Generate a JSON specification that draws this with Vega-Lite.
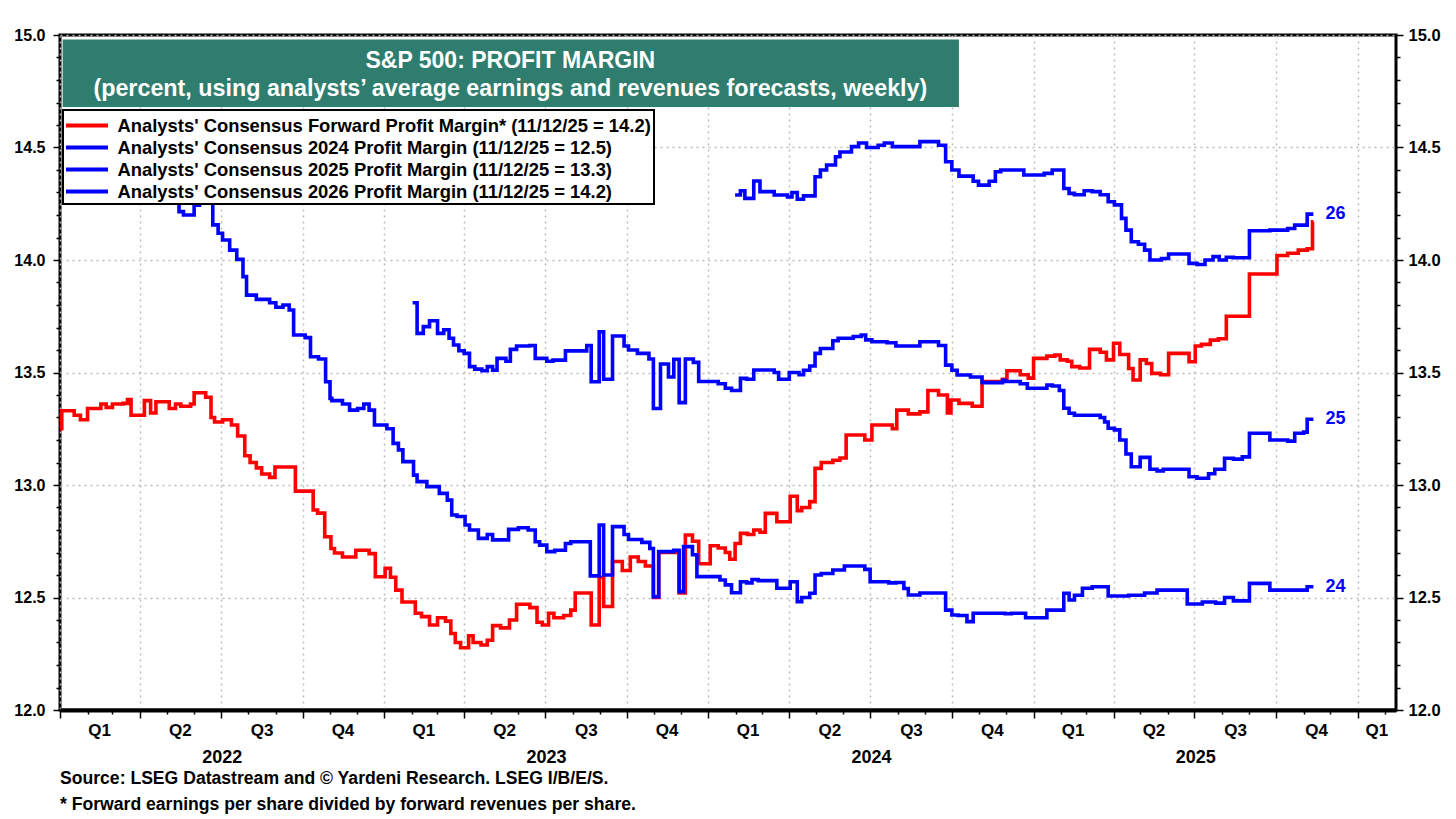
{
  "$schema": "https://vega.github.io/schema/vega-lite/v6.json",
  "width": 1336,
  "height": 675,
  "autosize": {"type": "none"},
  "padding": {"left": 60, "top": 35, "right": 60, "bottom": 109},
  "background": "white",
  "config": {
    "font": "Liberation Sans",
    "view": {"stroke": "black", "strokeWidth": 3},
    "legend": {"strokeWidth": 2},
    "axis": {"labelFont": "Liberation Sans", "labelFontWeight": "bold", "labelColor": "black", "tickColor": "black", "domainColor": "black", "title": null}
  },
  "title": {
    "text": ["Source: LSEG Datastream and © Yardeni Research. LSEG I/B/E/S.", "* Forward earnings per share divided by forward revenues per share."],
    "orient": "bottom", "anchor": "start", "frame": "group", "offset": 4,
    "font": "Liberation Sans", "fontSize": 17.6, "fontWeight": "bold", "color": "black", "lineHeight": 26
  },
  "datasets": {
    "m": [
      {"s":"F","t":"2022-01-01","v":13.25},{"s":"F","t":"2022-01-03","v":13.33},{"s":"F","t":"2022-01-17","v":13.31},{"s":"F","t":"2022-01-24","v":13.29},{"s":"F","t":"2022-02-01","v":13.34},{"s":"F","t":"2022-02-16","v":13.36},{"s":"F","t":"2022-02-22","v":13.345},{"s":"F","t":"2022-03-01","v":13.36},{"s":"F","t":"2022-03-13","v":13.363},{"s":"F","t":"2022-03-18","v":13.38},{"s":"F","t":"2022-03-22","v":13.31},{"s":"F","t":"2022-04-06","v":13.375},{"s":"F","t":"2022-04-13","v":13.32},{"s":"F","t":"2022-04-19","v":13.37},{"s":"F","t":"2022-05-04","v":13.34},{"s":"F","t":"2022-05-11","v":13.36},{"s":"F","t":"2022-05-17","v":13.35},{"s":"F","t":"2022-05-28","v":13.36},{"s":"F","t":"2022-06-01","v":13.41},{"s":"F","t":"2022-06-14","v":13.39},{"s":"F","t":"2022-06-20","v":13.30},{"s":"F","t":"2022-06-24","v":13.28},{"s":"F","t":"2022-07-03","v":13.29},{"s":"F","t":"2022-07-13","v":13.267},{"s":"F","t":"2022-07-20","v":13.218},{"s":"F","t":"2022-07-28","v":13.13},{"s":"F","t":"2022-08-03","v":13.10},{"s":"F","t":"2022-08-10","v":13.076},{"s":"F","t":"2022-08-16","v":13.049},{"s":"F","t":"2022-08-25","v":13.034},{"s":"F","t":"2022-08-31","v":13.08},{"s":"F","t":"2022-09-23","v":12.973},{"s":"F","t":"2022-10-13","v":12.889},{"s":"F","t":"2022-10-18","v":12.875},{"s":"F","t":"2022-10-26","v":12.77},{"s":"F","t":"2022-11-02","v":12.718},{"s":"F","t":"2022-11-06","v":12.698},{"s":"F","t":"2022-11-15","v":12.68},{"s":"F","t":"2022-11-30","v":12.71},{"s":"F","t":"2022-12-15","v":12.695},{"s":"F","t":"2022-12-22","v":12.592},{"s":"F","t":"2023-01-02","v":12.63},{"s":"F","t":"2023-01-08","v":12.59},{"s":"F","t":"2023-01-14","v":12.533},{"s":"F","t":"2023-01-21","v":12.48},{"s":"F","t":"2023-02-05","v":12.43},{"s":"F","t":"2023-02-12","v":12.415},{"s":"F","t":"2023-02-21","v":12.378},{"s":"F","t":"2023-03-02","v":12.41},{"s":"F","t":"2023-03-11","v":12.395},{"s":"F","t":"2023-03-17","v":12.34},{"s":"F","t":"2023-03-22","v":12.30},{"s":"F","t":"2023-03-28","v":12.277},{"s":"F","t":"2023-04-06","v":12.33},{"s":"F","t":"2023-04-11","v":12.30},{"s":"F","t":"2023-04-20","v":12.289},{"s":"F","t":"2023-04-27","v":12.31},{"s":"F","t":"2023-05-03","v":12.375},{"s":"F","t":"2023-05-12","v":12.365},{"s":"F","t":"2023-05-22","v":12.40},{"s":"F","t":"2023-05-30","v":12.47},{"s":"F","t":"2023-06-14","v":12.455},{"s":"F","t":"2023-06-22","v":12.39},{"s":"F","t":"2023-06-28","v":12.378},{"s":"F","t":"2023-07-05","v":12.43},{"s":"F","t":"2023-07-11","v":12.41},{"s":"F","t":"2023-07-22","v":12.42},{"s":"F","t":"2023-07-30","v":12.444},{"s":"F","t":"2023-08-04","v":12.52},{"s":"F","t":"2023-08-22","v":12.378},{"s":"F","t":"2023-08-31","v":12.59},{"s":"F","t":"2023-09-05","v":12.46},{"s":"F","t":"2023-09-15","v":12.66},{"s":"F","t":"2023-09-26","v":12.62},{"s":"F","t":"2023-10-05","v":12.68},{"s":"F","t":"2023-10-14","v":12.66},{"s":"F","t":"2023-10-22","v":12.64},{"s":"F","t":"2023-10-31","v":12.50},{"s":"F","t":"2023-11-06","v":12.70},{"s":"F","t":"2023-11-29","v":12.52},{"s":"F","t":"2023-12-06","v":12.778},{"s":"F","t":"2023-12-14","v":12.75},{"s":"F","t":"2023-12-21","v":12.65},{"s":"F","t":"2024-01-03","v":12.73},{"s":"F","t":"2024-01-12","v":12.72},{"s":"F","t":"2024-01-20","v":12.70},{"s":"F","t":"2024-01-25","v":12.67},{"s":"F","t":"2024-01-31","v":12.74},{"s":"F","t":"2024-02-06","v":12.785},{"s":"F","t":"2024-02-14","v":12.78},{"s":"F","t":"2024-02-21","v":12.80},{"s":"F","t":"2024-02-28","v":12.79},{"s":"F","t":"2024-03-05","v":12.874},{"s":"F","t":"2024-03-18","v":12.837},{"s":"F","t":"2024-04-02","v":12.95},{"s":"F","t":"2024-04-10","v":12.886},{"s":"F","t":"2024-04-15","v":12.90},{"s":"F","t":"2024-04-24","v":12.926},{"s":"F","t":"2024-04-30","v":13.074},{"s":"F","t":"2024-05-07","v":13.10},{"s":"F","t":"2024-05-20","v":13.11},{"s":"F","t":"2024-05-28","v":13.12},{"s":"F","t":"2024-06-04","v":13.222},{"s":"F","t":"2024-06-25","v":13.20},{"s":"F","t":"2024-07-03","v":13.267},{"s":"F","t":"2024-07-26","v":13.25},{"s":"F","t":"2024-07-31","v":13.333},{"s":"F","t":"2024-08-13","v":13.316},{"s":"F","t":"2024-08-26","v":13.325},{"s":"F","t":"2024-09-04","v":13.42},{"s":"F","t":"2024-09-16","v":13.40},{"s":"F","t":"2024-09-26","v":13.32},{"s":"F","t":"2024-09-30","v":13.378},{"s":"F","t":"2024-10-09","v":13.363},{"s":"F","t":"2024-10-24","v":13.35},{"s":"F","t":"2024-11-04","v":13.46},{"s":"F","t":"2024-11-27","v":13.47},{"s":"F","t":"2024-12-02","v":13.508},{"s":"F","t":"2024-12-17","v":13.49},{"s":"F","t":"2024-12-26","v":13.475},{"s":"F","t":"2025-01-01","v":13.563},{"s":"F","t":"2025-01-16","v":13.573},{"s":"F","t":"2025-01-25","v":13.578},{"s":"F","t":"2025-01-31","v":13.556},{"s":"F","t":"2025-02-08","v":13.55},{"s":"F","t":"2025-02-13","v":13.526},{"s":"F","t":"2025-02-22","v":13.52},{"s":"F","t":"2025-03-05","v":13.603},{"s":"F","t":"2025-03-17","v":13.59},{"s":"F","t":"2025-03-24","v":13.556},{"s":"F","t":"2025-04-01","v":13.63},{"s":"F","t":"2025-04-08","v":13.58},{"s":"F","t":"2025-04-18","v":13.518},{"s":"F","t":"2025-04-23","v":13.467},{"s":"F","t":"2025-05-01","v":13.556},{"s":"F","t":"2025-05-08","v":13.54},{"s":"F","t":"2025-05-14","v":13.496},{"s":"F","t":"2025-05-24","v":13.49},{"s":"F","t":"2025-06-02","v":13.585},{"s":"F","t":"2025-06-25","v":13.548},{"s":"F","t":"2025-07-02","v":13.618},{"s":"F","t":"2025-07-09","v":13.625},{"s":"F","t":"2025-07-19","v":13.644},{"s":"F","t":"2025-07-28","v":13.65},{"s":"F","t":"2025-08-06","v":13.75},{"s":"F","t":"2025-09-01","v":13.938},{"s":"F","t":"2025-10-02","v":14.02},{"s":"F","t":"2025-10-14","v":14.03},{"s":"F","t":"2025-10-26","v":14.044},{"s":"F","t":"2025-11-05","v":14.05},{"s":"F","t":"2025-11-11","v":14.17},{"s":"F","t":"2025-11-12","v":14.17},
      {"s":"24","t":"2022-01-05","v":14.45},{"s":"24","t":"2022-05-02","v":14.27},{"s":"24","t":"2022-05-05","v":14.259},{"s":"24","t":"2022-05-15","v":14.215},{"s":"24","t":"2022-05-20","v":14.20},{"s":"24","t":"2022-06-01","v":14.244},{"s":"24","t":"2022-06-07","v":14.26},{"s":"24","t":"2022-06-22","v":14.156},{"s":"24","t":"2022-06-28","v":14.119},{"s":"24","t":"2022-07-03","v":14.089},{"s":"24","t":"2022-07-11","v":14.044},{"s":"24","t":"2022-07-19","v":14.003},{"s":"24","t":"2022-07-26","v":13.926},{"s":"24","t":"2022-07-30","v":13.844},{"s":"24","t":"2022-08-10","v":13.825},{"s":"24","t":"2022-08-25","v":13.81},{"s":"24","t":"2022-09-01","v":13.79},{"s":"24","t":"2022-09-09","v":13.80},{"s":"24","t":"2022-09-16","v":13.778},{"s":"24","t":"2022-09-21","v":13.667},{"s":"24","t":"2022-10-04","v":13.655},{"s":"24","t":"2022-10-10","v":13.57},{"s":"24","t":"2022-10-19","v":13.56},{"s":"24","t":"2022-10-27","v":13.459},{"s":"24","t":"2022-11-01","v":13.385},{"s":"24","t":"2022-11-03","v":13.375},{"s":"24","t":"2022-11-15","v":13.36},{"s":"24","t":"2022-11-23","v":13.333},{"s":"24","t":"2022-12-02","v":13.34},{"s":"24","t":"2022-12-09","v":13.36},{"s":"24","t":"2022-12-15","v":13.333},{"s":"24","t":"2022-12-21","v":13.267},{"s":"24","t":"2023-01-04","v":13.25},{"s":"24","t":"2023-01-11","v":13.185},{"s":"24","t":"2023-01-17","v":13.156},{"s":"24","t":"2023-01-22","v":13.104},{"s":"24","t":"2023-02-03","v":13.044},{"s":"24","t":"2023-02-07","v":13.015},{"s":"24","t":"2023-02-18","v":12.993},{"s":"24","t":"2023-03-04","v":12.963},{"s":"24","t":"2023-03-13","v":12.933},{"s":"24","t":"2023-03-18","v":12.867},{"s":"24","t":"2023-03-24","v":12.86},{"s":"24","t":"2023-04-02","v":12.822},{"s":"24","t":"2023-04-07","v":12.80},{"s":"24","t":"2023-04-17","v":12.763},{"s":"24","t":"2023-04-27","v":12.78},{"s":"24","t":"2023-05-03","v":12.756},{"s":"24","t":"2023-05-21","v":12.803},{"s":"24","t":"2023-06-01","v":12.81},{"s":"24","t":"2023-06-12","v":12.80},{"s":"24","t":"2023-06-20","v":12.748},{"s":"24","t":"2023-06-25","v":12.733},{"s":"24","t":"2023-07-03","v":12.704},{"s":"24","t":"2023-07-12","v":12.71},{"s":"24","t":"2023-07-24","v":12.74},{"s":"24","t":"2023-07-30","v":12.748},{"s":"24","t":"2023-08-21","v":12.596},{"s":"24","t":"2023-08-31","v":12.822},{"s":"24","t":"2023-09-05","v":12.60},{"s":"24","t":"2023-09-15","v":12.815},{"s":"24","t":"2023-09-28","v":12.78},{"s":"24","t":"2023-10-03","v":12.758},{"s":"24","t":"2023-10-18","v":12.745},{"s":"24","t":"2023-10-27","v":12.718},{"s":"24","t":"2023-10-31","v":12.504},{"s":"24","t":"2023-11-06","v":12.704},{"s":"24","t":"2023-11-23","v":12.71},{"s":"24","t":"2023-11-29","v":12.526},{"s":"24","t":"2023-12-04","v":12.726},{"s":"24","t":"2023-12-14","v":12.69},{"s":"24","t":"2023-12-19","v":12.593},{"s":"24","t":"2024-01-14","v":12.578},{"s":"24","t":"2024-01-20","v":12.556},{"s":"24","t":"2024-01-27","v":12.521},{"s":"24","t":"2024-02-06","v":12.57},{"s":"24","t":"2024-02-13","v":12.565},{"s":"24","t":"2024-02-19","v":12.58},{"s":"24","t":"2024-02-26","v":12.575},{"s":"24","t":"2024-03-18","v":12.541},{"s":"24","t":"2024-04-02","v":12.57},{"s":"24","t":"2024-04-10","v":12.481},{"s":"24","t":"2024-04-15","v":12.50},{"s":"24","t":"2024-04-24","v":12.519},{"s":"24","t":"2024-04-30","v":12.60},{"s":"24","t":"2024-05-07","v":12.607},{"s":"24","t":"2024-05-20","v":12.622},{"s":"24","t":"2024-06-02","v":12.64},{"s":"24","t":"2024-06-25","v":12.625},{"s":"24","t":"2024-07-01","v":12.57},{"s":"24","t":"2024-07-22","v":12.565},{"s":"24","t":"2024-07-30","v":12.567},{"s":"24","t":"2024-08-08","v":12.54},{"s":"24","t":"2024-08-13","v":12.511},{"s":"24","t":"2024-08-26","v":12.52},{"s":"24","t":"2024-09-24","v":12.444},{"s":"24","t":"2024-10-01","v":12.422},{"s":"24","t":"2024-10-08","v":12.42},{"s":"24","t":"2024-10-18","v":12.393},{"s":"24","t":"2024-10-25","v":12.43},{"s":"24","t":"2024-11-30","v":12.428},{"s":"24","t":"2024-12-07","v":12.43},{"s":"24","t":"2024-12-23","v":12.41},{"s":"24","t":"2025-01-16","v":12.444},{"s":"24","t":"2025-02-04","v":12.519},{"s":"24","t":"2025-02-10","v":12.489},{"s":"24","t":"2025-02-16","v":12.51},{"s":"24","t":"2025-02-25","v":12.541},{"s":"24","t":"2025-03-08","v":12.548},{"s":"24","t":"2025-03-26","v":12.507},{"s":"24","t":"2025-04-18","v":12.51},{"s":"24","t":"2025-05-06","v":12.52},{"s":"24","t":"2025-05-20","v":12.533},{"s":"24","t":"2025-06-23","v":12.471},{"s":"24","t":"2025-07-10","v":12.48},{"s":"24","t":"2025-07-25","v":12.475},{"s":"24","t":"2025-08-04","v":12.50},{"s":"24","t":"2025-08-14","v":12.485},{"s":"24","t":"2025-09-01","v":12.563},{"s":"24","t":"2025-09-24","v":12.533},{"s":"24","t":"2025-11-05","v":12.548},{"s":"24","t":"2025-11-12","v":12.548},
      {"s":"25","t":"2023-02-02","v":13.81},{"s":"25","t":"2023-02-07","v":13.674},{"s":"25","t":"2023-02-14","v":13.704},{"s":"25","t":"2023-02-21","v":13.73},{"s":"25","t":"2023-03-02","v":13.674},{"s":"25","t":"2023-03-09","v":13.69},{"s":"25","t":"2023-03-15","v":13.652},{"s":"25","t":"2023-03-20","v":13.622},{"s":"25","t":"2023-03-26","v":13.597},{"s":"25","t":"2023-04-01","v":13.585},{"s":"25","t":"2023-04-07","v":13.526},{"s":"25","t":"2023-04-13","v":13.515},{"s":"25","t":"2023-04-21","v":13.508},{"s":"25","t":"2023-04-27","v":13.526},{"s":"25","t":"2023-05-03","v":13.51},{"s":"25","t":"2023-05-08","v":13.563},{"s":"25","t":"2023-05-18","v":13.55},{"s":"25","t":"2023-05-23","v":13.603},{"s":"25","t":"2023-05-30","v":13.618},{"s":"25","t":"2023-06-14","v":13.62},{"s":"25","t":"2023-06-20","v":13.563},{"s":"25","t":"2023-07-03","v":13.55},{"s":"25","t":"2023-07-10","v":13.555},{"s":"25","t":"2023-07-24","v":13.596},{"s":"25","t":"2023-08-17","v":13.62},{"s":"25","t":"2023-08-22","v":13.459},{"s":"25","t":"2023-08-31","v":13.681},{"s":"25","t":"2023-09-05","v":13.47},{"s":"25","t":"2023-09-15","v":13.662},{"s":"25","t":"2023-09-28","v":13.618},{"s":"25","t":"2023-10-03","v":13.60},{"s":"25","t":"2023-10-13","v":13.585},{"s":"25","t":"2023-10-26","v":13.56},{"s":"25","t":"2023-10-31","v":13.34},{"s":"25","t":"2023-11-08","v":13.538},{"s":"25","t":"2023-11-17","v":13.48},{"s":"25","t":"2023-11-23","v":13.559},{"s":"25","t":"2023-11-29","v":13.366},{"s":"25","t":"2023-12-06","v":13.56},{"s":"25","t":"2023-12-15","v":13.545},{"s":"25","t":"2023-12-21","v":13.46},{"s":"25","t":"2024-01-12","v":13.45},{"s":"25","t":"2024-01-20","v":13.43},{"s":"25","t":"2024-01-27","v":13.42},{"s":"25","t":"2024-02-06","v":13.474},{"s":"25","t":"2024-02-13","v":13.47},{"s":"25","t":"2024-02-21","v":13.511},{"s":"25","t":"2024-03-15","v":13.50},{"s":"25","t":"2024-03-20","v":13.47},{"s":"25","t":"2024-04-01","v":13.50},{"s":"25","t":"2024-04-12","v":13.49},{"s":"25","t":"2024-04-17","v":13.51},{"s":"25","t":"2024-04-24","v":13.529},{"s":"25","t":"2024-04-30","v":13.585},{"s":"25","t":"2024-05-06","v":13.607},{"s":"25","t":"2024-05-20","v":13.641},{"s":"25","t":"2024-05-26","v":13.652},{"s":"25","t":"2024-06-12","v":13.66},{"s":"25","t":"2024-06-21","v":13.667},{"s":"25","t":"2024-06-26","v":13.645},{"s":"25","t":"2024-07-03","v":13.637},{"s":"25","t":"2024-07-20","v":13.632},{"s":"25","t":"2024-07-30","v":13.618},{"s":"25","t":"2024-08-26","v":13.637},{"s":"25","t":"2024-09-16","v":13.62},{"s":"25","t":"2024-09-24","v":13.533},{"s":"25","t":"2024-10-01","v":13.51},{"s":"25","t":"2024-10-07","v":13.489},{"s":"25","t":"2024-10-22","v":13.48},{"s":"25","t":"2024-11-04","v":13.455},{"s":"25","t":"2024-11-27","v":13.465},{"s":"25","t":"2024-11-30","v":13.46},{"s":"25","t":"2024-12-17","v":13.45},{"s":"25","t":"2024-12-25","v":13.43},{"s":"25","t":"2025-01-16","v":13.444},{"s":"25","t":"2025-01-22","v":13.44},{"s":"25","t":"2025-01-30","v":13.42},{"s":"25","t":"2025-02-04","v":13.341},{"s":"25","t":"2025-02-10","v":13.319},{"s":"25","t":"2025-02-16","v":13.31},{"s":"25","t":"2025-03-17","v":13.30},{"s":"25","t":"2025-03-22","v":13.28},{"s":"25","t":"2025-03-26","v":13.252},{"s":"25","t":"2025-04-02","v":13.245},{"s":"25","t":"2025-04-08","v":13.20},{"s":"25","t":"2025-04-15","v":13.138},{"s":"25","t":"2025-04-21","v":13.081},{"s":"25","t":"2025-05-01","v":13.123},{"s":"25","t":"2025-05-12","v":13.07},{"s":"25","t":"2025-05-20","v":13.063},{"s":"25","t":"2025-05-27","v":13.07},{"s":"25","t":"2025-06-25","v":13.037},{"s":"25","t":"2025-07-04","v":13.03},{"s":"25","t":"2025-07-17","v":13.05},{"s":"25","t":"2025-07-24","v":13.07},{"s":"25","t":"2025-08-04","v":13.119},{"s":"25","t":"2025-08-14","v":13.115},{"s":"25","t":"2025-08-24","v":13.125},{"s":"25","t":"2025-09-01","v":13.23},{"s":"25","t":"2025-09-24","v":13.20},{"s":"25","t":"2025-10-14","v":13.195},{"s":"25","t":"2025-10-22","v":13.23},{"s":"25","t":"2025-11-01","v":13.235},{"s":"25","t":"2025-11-05","v":13.292},{"s":"25","t":"2025-11-12","v":13.292},
      {"s":"26","t":"2024-01-31","v":14.289},{"s":"26","t":"2024-02-06","v":14.308},{"s":"26","t":"2024-02-11","v":14.274},{"s":"26","t":"2024-02-21","v":14.351},{"s":"26","t":"2024-02-28","v":14.304},{"s":"26","t":"2024-03-15","v":14.289},{"s":"26","t":"2024-03-30","v":14.28},{"s":"26","t":"2024-04-04","v":14.30},{"s":"26","t":"2024-04-10","v":14.27},{"s":"26","t":"2024-04-17","v":14.285},{"s":"26","t":"2024-04-30","v":14.37},{"s":"26","t":"2024-05-06","v":14.40},{"s":"26","t":"2024-05-13","v":14.422},{"s":"26","t":"2024-05-23","v":14.459},{"s":"26","t":"2024-05-28","v":14.48},{"s":"26","t":"2024-06-10","v":14.504},{"s":"26","t":"2024-06-18","v":14.52},{"s":"26","t":"2024-06-27","v":14.50},{"s":"26","t":"2024-07-10","v":14.51},{"s":"26","t":"2024-07-17","v":14.52},{"s":"26","t":"2024-07-26","v":14.504},{"s":"26","t":"2024-08-26","v":14.526},{"s":"26","t":"2024-09-16","v":14.51},{"s":"26","t":"2024-09-24","v":14.437},{"s":"26","t":"2024-10-01","v":14.40},{"s":"26","t":"2024-10-09","v":14.373},{"s":"26","t":"2024-10-25","v":14.35},{"s":"26","t":"2024-10-31","v":14.333},{"s":"26","t":"2024-11-12","v":14.35},{"s":"26","t":"2024-11-19","v":14.392},{"s":"26","t":"2024-11-25","v":14.40},{"s":"26","t":"2024-12-21","v":14.378},{"s":"26","t":"2025-01-13","v":14.385},{"s":"26","t":"2025-01-22","v":14.40},{"s":"26","t":"2025-02-04","v":14.318},{"s":"26","t":"2025-02-10","v":14.296},{"s":"26","t":"2025-02-16","v":14.29},{"s":"26","t":"2025-02-27","v":14.308},{"s":"26","t":"2025-03-08","v":14.304},{"s":"26","t":"2025-03-17","v":14.29},{"s":"26","t":"2025-03-26","v":14.259},{"s":"26","t":"2025-04-02","v":14.245},{"s":"26","t":"2025-04-10","v":14.185},{"s":"26","t":"2025-04-15","v":14.133},{"s":"26","t":"2025-04-21","v":14.081},{"s":"26","t":"2025-04-29","v":14.07},{"s":"26","t":"2025-05-06","v":14.044},{"s":"26","t":"2025-05-12","v":14.0},{"s":"26","t":"2025-05-25","v":14.007},{"s":"26","t":"2025-06-02","v":14.027},{"s":"26","t":"2025-06-25","v":13.985},{"s":"26","t":"2025-07-04","v":13.98},{"s":"26","t":"2025-07-13","v":14.0},{"s":"26","t":"2025-07-22","v":14.015},{"s":"26","t":"2025-07-29","v":14.0},{"s":"26","t":"2025-08-06","v":14.012},{"s":"26","t":"2025-08-14","v":14.01},{"s":"26","t":"2025-09-01","v":14.13},{"s":"26","t":"2025-09-24","v":14.133},{"s":"26","t":"2025-10-14","v":14.14},{"s":"26","t":"2025-10-22","v":14.155},{"s":"26","t":"2025-11-05","v":14.204},{"s":"26","t":"2025-11-12","v":14.204}
    ]
  },
  "resolve": {"axis": {"x": "independent", "y": "independent"}},
  "layer": [
    {
      "data": {"name": "m"},
      "mark": {"type": "line", "interpolate": "step-after", "strokeWidth": 3.6},
      "encoding": {
        "x": {"field": "t", "type": "temporal",
          "scale": {"domain": [{"year":2022,"month":1,"date":1,"utc":true},{"year":2026,"month":2,"date":13,"utc":true}]},
          "axis": {"orient": "bottom", "title": null, "labels": false, "ticks": true, "tickSize": 8, "tickWidth": 1.5,
            "grid": true, "gridColor": "#BBBBBB", "gridDash": [2, 4], "gridWidth": 1.5,
            "domain": true, "domainWidth": 4,
            "values": [{"year":2022,"month":1,"date":1,"utc":true},{"year":2022,"month":4,"date":1,"utc":true},{"year":2022,"month":7,"date":1,"utc":true},{"year":2022,"month":10,"date":1,"utc":true},{"year":2023,"month":1,"date":1,"utc":true},{"year":2023,"month":4,"date":1,"utc":true},{"year":2023,"month":7,"date":1,"utc":true},{"year":2023,"month":10,"date":1,"utc":true},{"year":2024,"month":1,"date":1,"utc":true},{"year":2024,"month":4,"date":1,"utc":true},{"year":2024,"month":7,"date":1,"utc":true},{"year":2024,"month":10,"date":1,"utc":true},{"year":2025,"month":1,"date":1,"utc":true},{"year":2025,"month":4,"date":1,"utc":true},{"year":2025,"month":7,"date":1,"utc":true},{"year":2025,"month":10,"date":1,"utc":true},{"year":2026,"month":1,"date":1,"utc":true}]}},
        "y": {"field": "v", "type": "quantitative",
          "scale": {"domain": [12, 15], "nice": false, "zero": false},
          "axis": {"orient": "left", "title": null, "values": [12, 12.5, 13, 13.5, 14, 14.5, 15], "format": ".1f",
            "tickSize": 7, "tickWidth": 1.5, "labelPadding": 8, "labelFontSize": 16,
            "grid": true, "gridColor": "#BBBBBB", "gridDash": [2, 4], "gridWidth": 1.5, "domain": false}},
        "color": {"field": "s", "type": "nominal",
          "scale": {"domain": ["F", "24", "25", "26"], "range": ["#FF0000", "#0000FF", "#0000FF", "#0000FF"]},
          "legend": {"orient": "none", "legendX": 3, "legendY": 75, "title": null, "direction": "vertical",
            "fillColor": "white", "strokeColor": "black", "padding": 3,
            "symbolType": "M-2,0H2", "symbolStrokeWidth": 4, "symbolSize": 441, "symbolOffset": 8.5,
            "labelFont": "Liberation Sans", "labelFontSize": 18.4, "labelFontWeight": "bold", "labelColor": "black",
            "labelOffset": 18, "rowPadding": 0, "labelLimit": 0,
            "labelExpr": "datum.label == 'F' ? \"Analysts' Consensus Forward Profit Margin* (11/12/25 = 14.2)\" : \"Analysts' Consensus 20\" + datum.label + \" Profit Margin (11/12/25 = \" + (datum.label == '24' ? '12.5' : datum.label == '25' ? '13.3' : '14.2') + ')'"}}
      }
    },
    {
      "data": {"name": "m"},
      "transform": [
        {"filter": "datum.s != 'F'"},
        {"joinaggregate": [{"op": "max", "field": "t", "as": "tm"}], "groupby": ["s"]},
        {"filter": "time(datum.t) == time(datum.tm)"}
      ],
      "mark": {"type": "text", "align": "left", "baseline": "middle", "dx": 12, "fontSize": 18, "fontWeight": "bold", "color": "#0000FF", "font": "Liberation Sans"},
      "encoding": {
        "x": {"field": "t", "type": "temporal",
          "scale": {"domain": [{"year":2022,"month":1,"date":1,"utc":true},{"year":2026,"month":2,"date":13,"utc":true}]},
          "axis": {"orient": "bottom", "title": null, "ticks": false, "tickSize": 0, "domain": false, "grid": false,
            "labelPadding": 12, "labelFontSize": 17, "labelAlign": "center",
            "labelExpr": "'Q' + utcquarter(datum.value)",
            "values": [{"year":2022,"month":2,"date":14,"utc":true},{"year":2022,"month":5,"date":16,"utc":true},{"year":2022,"month":8,"date":16,"utc":true},{"year":2022,"month":11,"date":15,"utc":true},{"year":2023,"month":2,"date":14,"utc":true},{"year":2023,"month":5,"date":16,"utc":true},{"year":2023,"month":8,"date":16,"utc":true},{"year":2023,"month":11,"date":15,"utc":true},{"year":2024,"month":2,"date":14,"utc":true},{"year":2024,"month":5,"date":16,"utc":true},{"year":2024,"month":8,"date":16,"utc":true},{"year":2024,"month":11,"date":15,"utc":true},{"year":2025,"month":2,"date":14,"utc":true},{"year":2025,"month":5,"date":16,"utc":true},{"year":2025,"month":8,"date":16,"utc":true},{"year":2025,"month":11,"date":15,"utc":true},{"year":2026,"month":1,"date":22,"utc":true}]}},
        "y": {"field": "v", "type": "quantitative",
          "scale": {"domain": [12, 15], "nice": false, "zero": false},
          "axis": {"orient": "right", "title": null, "values": [12, 12.5, 13, 13.5, 14, 14.5, 15], "format": ".1f",
            "tickSize": 7, "tickWidth": 1.5, "labelPadding": 5, "labelFontSize": 16.5, "grid": false, "domain": false}},
        "text": {"field": "s", "type": "nominal"}
      }
    },
    {
      "data": {"values": [{}]},
      "mark": {"type": "rect", "color": "#2E7D6E"},
      "encoding": {
        "x": {"datum": {"year":2022,"month":1,"date":4,"utc":true}, "type": "temporal",
          "scale": {"domain": [{"year":2022,"month":1,"date":1,"utc":true},{"year":2026,"month":2,"date":13,"utc":true}]},
          "axis": {"orient": "bottom", "title": null, "ticks": false, "tickSize": 0, "domain": false, "grid": false,
            "labelPadding": 38, "labelFontSize": 18, "labelAlign": "center",
            "labelExpr": "utcFormat(datum.value, '%Y')",
            "values": [{"year":2022,"month":7,"date":2,"utc":true},{"year":2023,"month":7,"date":2,"utc":true},{"year":2024,"month":7,"date":2,"utc":true},{"year":2025,"month":7,"date":2,"utc":true}]}},
        "x2": {"datum": {"year":2024,"month":10,"date":9,"utc":true}},
        "y": {"datum": 14.98, "type": "quantitative",
          "scale": {"domain": [12, 15], "nice": false, "zero": false},
          "axis": {"orient": "left", "title": null, "labels": false, "tickSize": 4, "tickWidth": 1.5, "grid": false, "domain": false,
            "values": [12.1,12.2,12.3,12.4,12.6,12.7,12.8,12.9,13.1,13.2,13.3,13.4,13.6,13.7,13.8,13.9,14.1,14.2,14.3,14.4,14.6,14.7,14.8,14.9]}},
        "y2": {"datum": 14.68}
      }
    },
    {
      "data": {"values": [{}]},
      "mark": {"type": "text", "align": "center", "baseline": "middle", "fontSize": 23, "fontWeight": "bold", "color": "white", "font": "Liberation Sans", "text": "S&P 500: PROFIT MARGIN"},
      "encoding": {
        "x": {"datum": {"year":2023,"month":5,"date":23,"utc":true}, "type": "temporal",
          "scale": {"domain": [{"year":2022,"month":1,"date":1,"utc":true},{"year":2026,"month":2,"date":13,"utc":true}]},
          "axis": {"orient": "bottom", "title": null, "labels": false, "tickSize": 4, "tickWidth": 1.5, "domain": false, "grid": false,
            "values": [{"year":2022,"month":2,"date":1,"utc":true},{"year":2022,"month":3,"date":1,"utc":true},{"year":2022,"month":5,"date":1,"utc":true},{"year":2022,"month":6,"date":1,"utc":true},{"year":2022,"month":8,"date":1,"utc":true},{"year":2022,"month":9,"date":1,"utc":true},{"year":2022,"month":11,"date":1,"utc":true},{"year":2022,"month":12,"date":1,"utc":true},{"year":2023,"month":2,"date":1,"utc":true},{"year":2023,"month":3,"date":1,"utc":true},{"year":2023,"month":5,"date":1,"utc":true},{"year":2023,"month":6,"date":1,"utc":true},{"year":2023,"month":8,"date":1,"utc":true},{"year":2023,"month":9,"date":1,"utc":true},{"year":2023,"month":11,"date":1,"utc":true},{"year":2023,"month":12,"date":1,"utc":true},{"year":2024,"month":2,"date":1,"utc":true},{"year":2024,"month":3,"date":1,"utc":true},{"year":2024,"month":5,"date":1,"utc":true},{"year":2024,"month":6,"date":1,"utc":true},{"year":2024,"month":8,"date":1,"utc":true},{"year":2024,"month":9,"date":1,"utc":true},{"year":2024,"month":11,"date":1,"utc":true},{"year":2024,"month":12,"date":1,"utc":true},{"year":2025,"month":2,"date":1,"utc":true},{"year":2025,"month":3,"date":1,"utc":true},{"year":2025,"month":5,"date":1,"utc":true},{"year":2025,"month":6,"date":1,"utc":true},{"year":2025,"month":8,"date":1,"utc":true},{"year":2025,"month":9,"date":1,"utc":true},{"year":2025,"month":11,"date":1,"utc":true},{"year":2025,"month":12,"date":1,"utc":true},{"year":2026,"month":2,"date":1,"utc":true}]}},
        "y": {"datum": 14.885, "type": "quantitative",
          "scale": {"domain": [12, 15], "nice": false, "zero": false},
          "axis": {"orient": "right", "title": null, "labels": false, "tickSize": 4, "tickWidth": 1.5, "grid": false, "domain": false,
            "values": [12.1,12.2,12.3,12.4,12.6,12.7,12.8,12.9,13.1,13.2,13.3,13.4,13.6,13.7,13.8,13.9,14.1,14.2,14.3,14.4,14.6,14.7,14.8,14.9]}}
      }
    },
    {
      "data": {"values": [{}]},
      "mark": {"type": "text", "align": "center", "baseline": "middle", "fontSize": 23.3, "fontWeight": "bold", "color": "white", "font": "Liberation Sans", "text": "(percent, using analysts’ average earnings and revenues forecasts, weekly)"},
      "encoding": {
        "x": {"datum": {"year":2023,"month":5,"date":23,"utc":true}, "type": "temporal", "axis": null,
          "scale": {"domain": [{"year":2022,"month":1,"date":1,"utc":true},{"year":2026,"month":2,"date":13,"utc":true}]}},
        "y": {"datum": 14.762, "type": "quantitative", "axis": null,
          "scale": {"domain": [12, 15], "nice": false, "zero": false}}
      }
    }
  ]
}
